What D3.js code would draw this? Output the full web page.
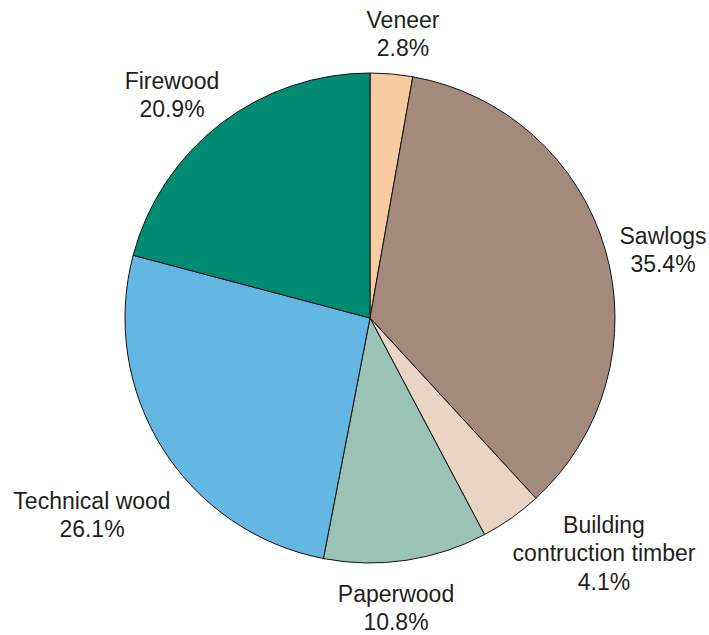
<!DOCTYPE html>
<html>
<head>
<meta charset="utf-8">
<script src="https://cdn.jsdelivr.net/npm/d3@7"></script>
<style>
  html, body { margin: 0; padding: 0; background: #fff; }
  text { font-family: "Liberation Sans", Arial, Helvetica, sans-serif; }
</style>
</head>
<body>
<svg id="chart" width="709" height="635"></svg>
<script>
// ---- data ----
const categories = ["Veneer", "Sawlogs", "Building\ncontruction timber", "Paperwood", "Technical wood", "Firewood"];
const values = [2.8, 35.4, 4.1, 10.8, 26.1, 20.9];
const valueLabels = ["2.8%", "35.4%", "4.1%", "10.8%", "26.1%", "20.9%"];

// ---- styles / layout ----
const colors = ["#F9CBA0", "#A48A7B", "#EAD4C3", "#9BC3B5", "#64B7E2", "#008B72"];
const cx = 370, cy = 318, R = 245;
// label anchor (x center, first baseline) relative to chart
const labelPos = [[403, 28], [663, 244], [604, 533], [396, 602], [92, 509], [172, 89]];
const lineH = 28.3;

const svg = d3.select("#chart");
const g = svg.append("g").attr("transform", `translate(${cx},${cy})`);

const pie = d3.pie().sort(null).value(d => d)
  .startAngle(0).endAngle(2 * Math.PI * d3.sum(values) / 100 > 2 * Math.PI ? 2 * Math.PI : 2 * Math.PI * d3.sum(values) / 100);
const arc = d3.arc().innerRadius(0).outerRadius(R);

g.selectAll("path.slice")
  .data(pie(values))
  .join("path")
  .attr("class", "slice")
  .attr("d", arc)
  .attr("fill", (d, i) => colors[i])
  .attr("stroke", "#111")
  .attr("stroke-width", 1)
  .attr("stroke-linejoin", "round");

const labels = svg.selectAll("text.lbl")
  .data(categories)
  .join("text")
  .attr("class", "lbl")
  .attr("text-anchor", "middle")
  .attr("font-size", 23)
  .attr("fill", "#231F20");

labels.each(function (c, i) {
  const t = d3.select(this);
  const lines = c.split("\n").concat([valueLabels[i]]);
  lines.forEach((ln, j) => {
    t.append("tspan")
      .attr("x", labelPos[i][0])
      .attr("y", labelPos[i][1] + j * lineH)
      .text(ln);
  });
});
</script>
</body>
</html>
